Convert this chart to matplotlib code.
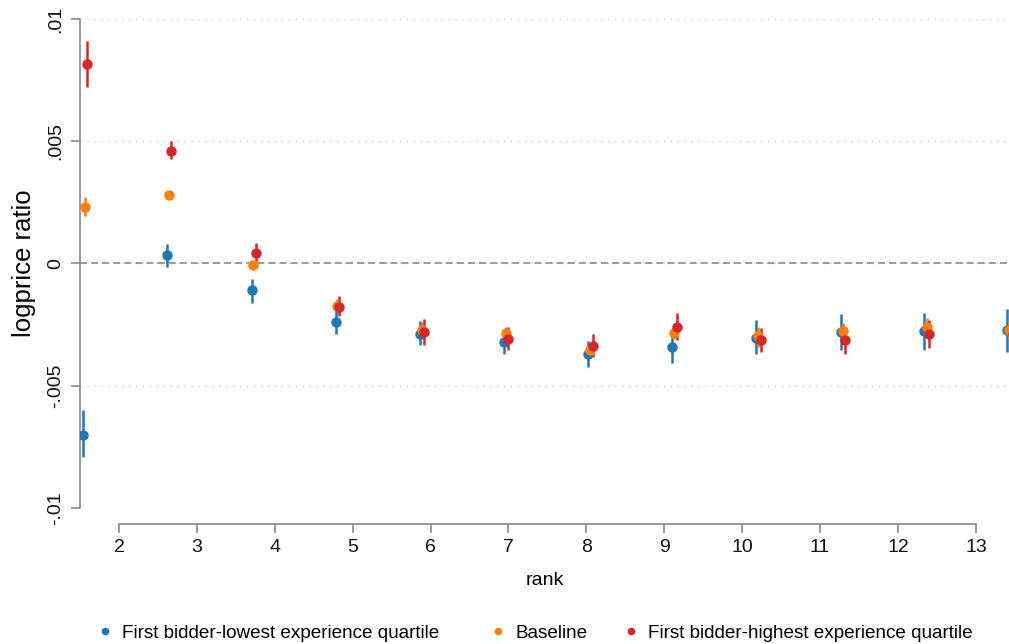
import numpy as np
import matplotlib
matplotlib.use("Agg")
import matplotlib.pyplot as plt
from matplotlib.lines import Line2D

plt.rcParams['font.family'] = ['Liberation Sans', 'DejaVu Sans']

# plotted rank positions (series are slightly dodged)
x_low = [1.542, 2.620, 3.703, 4.782, 5.864, 6.942, 8.024, 9.103, 10.177, 11.264, 12.334, 13.405]
x_base = [1.564, 2.646, 3.724, 4.802, 5.886, 6.968, 8.046, 9.129, 10.203, 11.294, 12.369, 13.43]
x_high = [1.593, 2.671, 3.755, 4.828, 5.915, 6.997, 8.081, 9.159, 10.241, 11.323, 12.402, 13.47]

# point estimates with confidence bands
low = [-0.0070, 0.00033, -0.0011, -0.0024, -0.00287, -0.00322, -0.00369, -0.00342, -0.00304, -0.00281, -0.00278, -0.00274]
low_lo = [-0.00792, -0.00015, -0.0016, -0.00287, -0.00335, -0.00372, -0.00424, -0.00406, -0.00372, -0.00353, -0.00353, -0.00363]
low_hi = [-0.00601, 0.0008, -0.00063, -0.00192, -0.00236, -0.00267, -0.00315, -0.00278, -0.00233, -0.00206, -0.00203, -0.00185]

base = [0.00233, 0.00282, -0.00008, -0.00172, -0.00274, -0.00285, -0.00353, -0.00283, -0.00298, -0.00277, -0.0026, -0.0027]
base_lo = [0.00196, 0.00270, -0.0002, -0.0019, -0.0031, -0.0031, -0.0038, -0.00307, -0.00342, -0.00315, -0.00304, -0.0031]
base_hi = [0.0027, 0.00294, 0.00004, -0.00145, -0.0024, -0.00258, -0.00326, -0.00262, -0.0026, -0.00244, -0.00222, -0.0023]

high = [0.00817, 0.00462, 0.00044, -0.00176, -0.00281, -0.00308, -0.00338, -0.0026, -0.00312, -0.00312, -0.0029, -0.0029]
high_lo = [0.00721, 0.00428, 0.00004, -0.00213, -0.00335, -0.00353, -0.00383, -0.00312, -0.00363, -0.00369, -0.00345, -0.0034]
high_hi = [0.00912, 0.00499, 0.00083, -0.00135, -0.00226, -0.0026, -0.0029, -0.00203, -0.00265, -0.00258, -0.0023, -0.0024]

labels = ['First bidder-lowest experience quartile', 'Baseline',
          'First bidder-highest experience quartile']
colors = ['#1f77b4', '#ff7f0e', '#d62728']

yticks = [-0.01, -0.005, 0, 0.005, 0.01]
ytick_labels = ['-.01', '-.005', '0', '.005', '.01']
xticks = list(range(2, 14))

fig = plt.figure(figsize=(10.09, 6.44), dpi=100)
ax = fig.add_axes([0.0793, 0.2112, 0.9207, 0.7593])

# grid + zero line
for yv in yticks:
    ax.axhline(yv, color='#c4c4c4', lw=1.0, linestyle=(0, (0.8, 4.2)), zorder=0)
ax.axhline(0, color='#9a9a9a', lw=1.4, dashes=(3.6, 2.1), zorder=1)

series = [
    (x_low, low, low_lo, low_hi),
    (x_base, base, base_lo, base_hi),
    (x_high, high, high_lo, high_hi),
]
for (xs, ys, lo, hi), c in zip(series, colors):
    ax.vlines(xs, lo, hi, color=c, lw=1.8, zorder=2)
    ax.plot(xs, ys, 'o', color=c, ms=6.5, mec=c, zorder=3)

ax.set_xlim(1.5, 13.425)
ax.set_ylim(-0.01, 0.01)

ax.set_yticks(yticks)
ax.set_yticklabels(ytick_labels, rotation=90, va='center')
ax.set_xticks(xticks)
ax.set_xticklabels([str(t) for t in xticks])

for s in ['top', 'right']:
    ax.spines[s].set_visible(False)
ax.spines['left'].set_bounds(-0.01, 0.01)
ax.spines['bottom'].set_bounds(2, 13)
ax.spines['bottom'].set_position(('outward', 11.5))
for s in ['left', 'bottom']:
    ax.spines[s].set_color('#8a8a8a')
    ax.spines[s].set_linewidth(1.2)

ax.tick_params(axis='both', colors='#8a8a8a', length=6.5, width=1.2,
               labelcolor='#111111', labelsize=14)
ax.tick_params(axis='x', pad=4)
ax.tick_params(axis='y', pad=5)

ax.set_ylabel('logprice ratio', fontsize=18.5, labelpad=8)
ax.set_xlabel('rank', fontsize=14, labelpad=12)

# legend row at the bottom
legend_x = [0.0947, 0.4843, 0.616]
for lab, c, lx in zip(labels, colors, legend_x):
    h = Line2D([], [], marker='o', color=c, linestyle='none', markersize=4.5)
    fig.legend([h], [lab], loc='center left', bbox_to_anchor=(lx, 0.017),
               frameon=False, fontsize=13.6, handletextpad=0.4,
               handlelength=1.0, borderaxespad=0, borderpad=0)

fig.savefig('out.png', dpi=100)
